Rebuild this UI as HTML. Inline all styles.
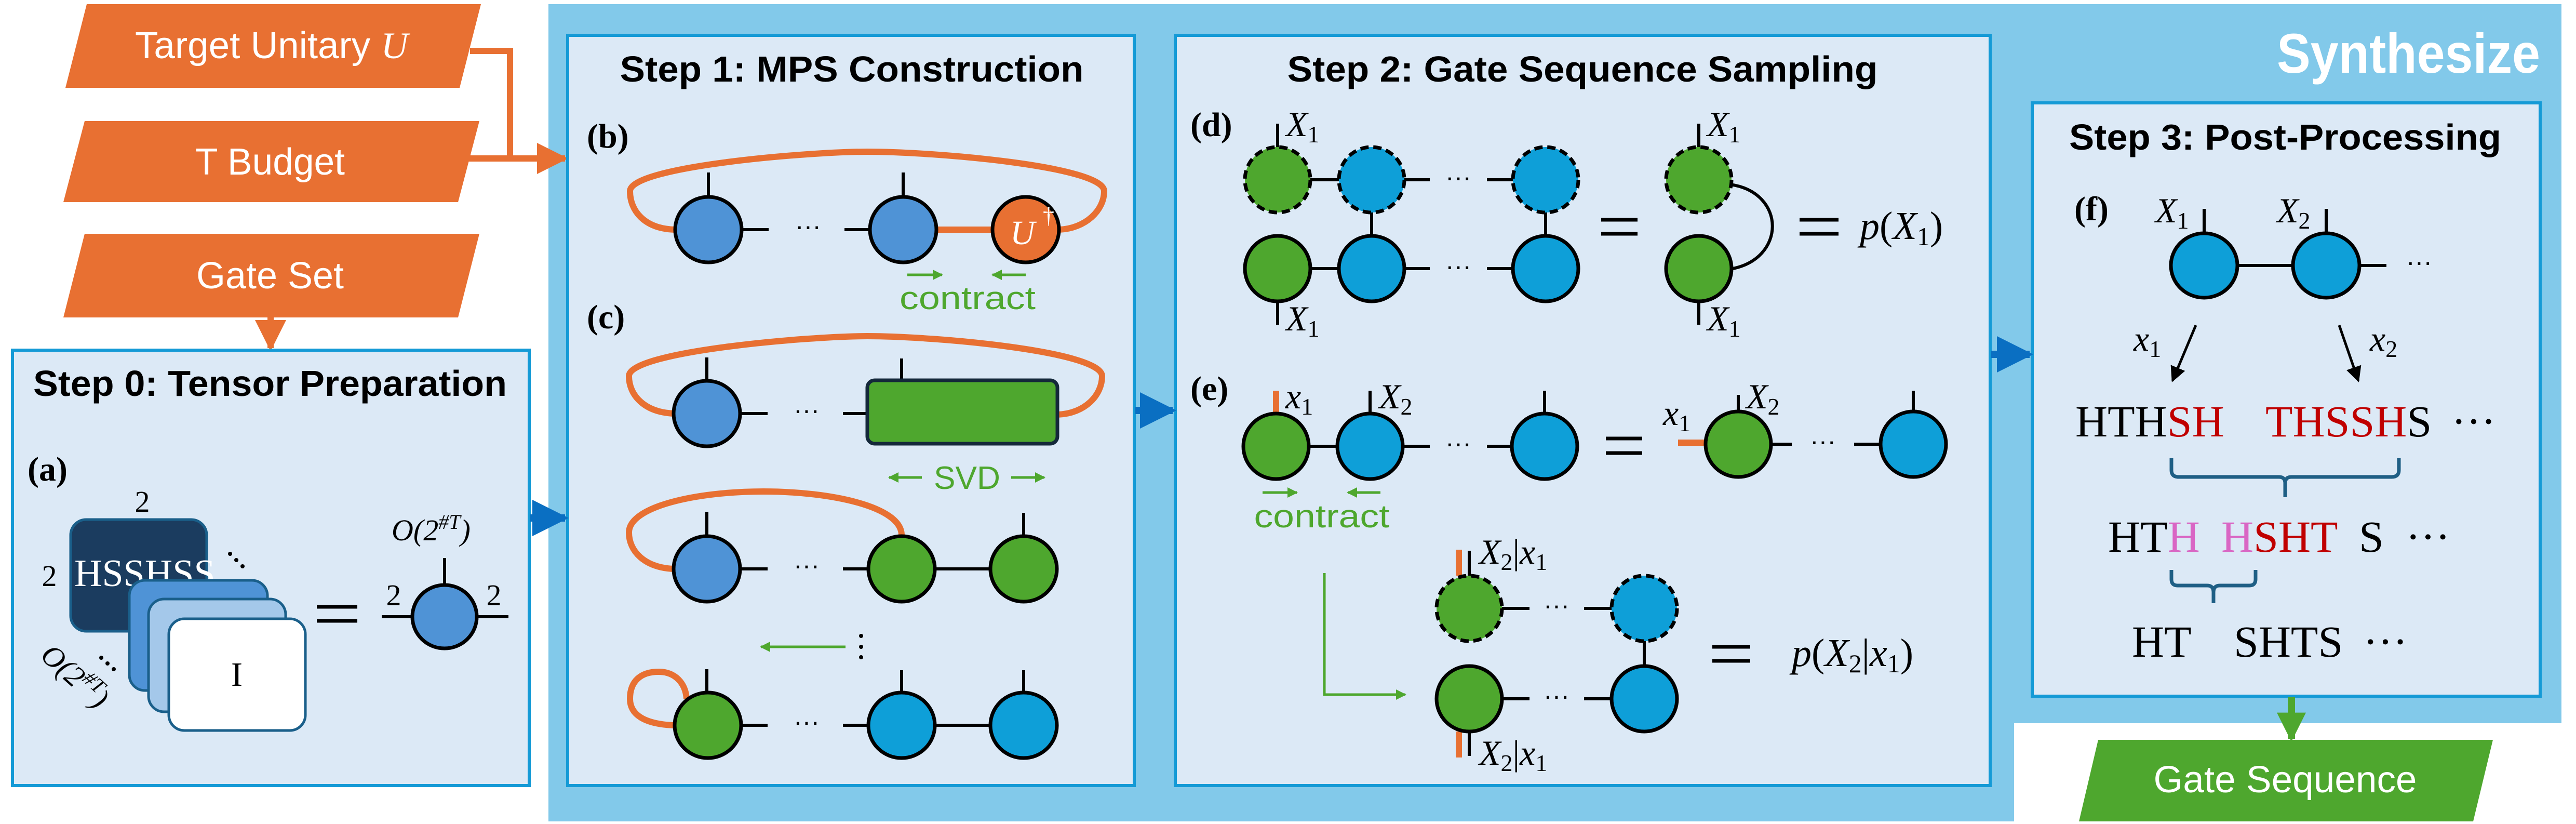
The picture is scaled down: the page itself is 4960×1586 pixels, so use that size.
<!DOCTYPE html>
<html><head><meta charset="utf-8"><style>
html,body{margin:0;padding:0;background:#fff}
svg{display:block}
.t{font-family:"Liberation Sans",sans-serif;font-weight:bold}
.s{font-family:"Liberation Serif",serif}
.m{font-family:"Liberation Serif",serif;font-style:italic}
</style></head><body>
<svg width="4960" height="1586" viewBox="0 0 4960 1586" xmlns="http://www.w3.org/2000/svg">
<defs>
<marker id="ab" viewBox="0 0 10 10" refX="9" refY="5" markerWidth="5" markerHeight="5" orient="auto"><path d="M0,0L10,5L0,10z" fill="#0a6fc2"/></marker>
<marker id="ao" viewBox="0 0 10 10" refX="9" refY="5" markerWidth="5" markerHeight="5" orient="auto"><path d="M0,0L10,5L0,10z" fill="#e87032"/></marker>
<marker id="ag" viewBox="0 0 10 10" refX="9" refY="5" markerWidth="4" markerHeight="4" orient="auto"><path d="M0,0L10,5L0,10z" fill="#4ea72e"/></marker>
<marker id="ak" viewBox="0 0 10 10" refX="9" refY="5" markerWidth="6" markerHeight="6" orient="auto"><path d="M0,0L10,5L0,10z" fill="#000"/></marker>
</defs>
<path d="M1056,8 H4932 V1392 H3878 V1581 H1056 Z" fill="#82c9ea"/>
<text x="4891" y="140" text-anchor="end" class="t" font-size="108" fill="#fff" textLength="507" lengthAdjust="spacingAndGlyphs">Synthesize</text>

<polygon points="167,8 926,8 885,169 126,169" fill="#e87032"/>
<text x="523" y="112" text-anchor="middle" font-family="Liberation Sans,sans-serif" font-size="72" fill="#fff" textLength="526" lengthAdjust="spacingAndGlyphs">Target Unitary <tspan class="m">U</tspan></text>
<polygon points="163,233 923,233 882,389 122,389" fill="#e87032"/>
<text x="520" y="336" text-anchor="middle" font-family="Liberation Sans,sans-serif" font-size="72" fill="#fff" textLength="288" lengthAdjust="spacingAndGlyphs">T Budget</text>
<polygon points="163,450 923,450 882,611 122,611" fill="#e87032"/>
<text x="520" y="555" text-anchor="middle" font-family="Liberation Sans,sans-serif" font-size="72" fill="#fff" textLength="284" lengthAdjust="spacingAndGlyphs">Gate Set</text>
<path d="M905,98 H982 V303" fill="none" stroke="#e87032" stroke-width="12"/>
<line x1="900" y1="305" x2="1088" y2="305" stroke="#e87032" stroke-width="12" marker-end="url(#ao)"/>
<line x1="521" y1="611" x2="521" y2="670" stroke="#e87032" stroke-width="12" marker-end="url(#ao)"/>

<rect x="24" y="674" width="995" height="838" fill="#dce9f6" stroke="#149ad6" stroke-width="6"/>
<rect x="1093" y="68" width="1091" height="1444" fill="#dce9f6" stroke="#149ad6" stroke-width="6"/>
<rect x="2263" y="68" width="1569" height="1444" fill="#dce9f6" stroke="#149ad6" stroke-width="6"/>
<rect x="3913" y="198" width="978" height="1142" fill="#dce9f6" stroke="#149ad6" stroke-width="6"/>

<line x1="1021" y1="997" x2="1088" y2="997" stroke="#0a6fc2" stroke-width="14" marker-end="url(#ab)"/>
<line x1="2186" y1="790" x2="2258" y2="790" stroke="#0a6fc2" stroke-width="14" marker-end="url(#ab)"/>
<line x1="3834" y1="682" x2="3908" y2="682" stroke="#0a6fc2" stroke-width="14" marker-end="url(#ab)"/>

<text x="520" y="762" text-anchor="middle" class="t" font-size="70" textLength="912" lengthAdjust="spacingAndGlyphs">Step 0: Tensor Preparation</text>
<text x="1640" y="157" text-anchor="middle" class="t" font-size="70" textLength="893" lengthAdjust="spacingAndGlyphs">Step 1: MPS Construction</text>
<text x="3047" y="157" text-anchor="middle" class="t" font-size="70" textLength="1137" lengthAdjust="spacingAndGlyphs">Step 2: Gate Sequence Sampling</text>
<text x="4400" y="288" text-anchor="middle" class="t" font-size="70" textLength="832" lengthAdjust="spacingAndGlyphs">Step 3: Post-Processing</text>

<!-- Step 0 -->
<text x="53" y="925" class="s" font-weight="bold" font-size="66">(a)</text>
<text x="274" y="985" text-anchor="middle" class="s" font-size="58">2</text>
<text x="95" y="1128" text-anchor="middle" class="s" font-size="58">2</text>
<rect x="136" y="1000" width="262" height="215" rx="30" fill="#1b3c5f" stroke="#1a5f8a" stroke-width="5"/>
<text x="143" y="1128" class="s" font-size="74" fill="#fff">HSSHSS</text>
<rect x="249" y="1117" width="266" height="212" rx="30" fill="#4f93d6" stroke="#1a5f8a" stroke-width="5"/>
<rect x="286" y="1153" width="264" height="217" rx="30" fill="#a4c8ea" stroke="#1a5f8a" stroke-width="5"/>
<rect x="325" y="1191" width="263" height="215" rx="30" fill="#fff" stroke="#1a5f8a" stroke-width="5"/>
<text x="456" y="1320" text-anchor="middle" class="s" font-size="66">I</text>
<g fill="#000"><circle cx="443" cy="1066" r="4"/><circle cx="455" cy="1078" r="4"/><circle cx="467" cy="1090" r="4"/>
<circle cx="195" cy="1266" r="4"/><circle cx="207" cy="1277" r="4"/><circle cx="219" cy="1288" r="4"/></g>
<text transform="translate(75,1265) rotate(42)" class="m" font-size="58">O(2<tspan font-size="40" dy="-22">#T</tspan><tspan dy="22">)</tspan></text>
<g stroke="#000" stroke-width="7"><line x1="610" y1="1168" x2="688" y2="1168"/><line x1="610" y1="1195" x2="688" y2="1195"/></g>
<text x="754" y="1040" class="m" font-size="58">O(2<tspan font-size="40" dy="-22">#T</tspan><tspan dy="22">)</tspan></text>
<g stroke="#000" stroke-width="6"><line x1="856" y1="1074" x2="856" y2="1125"/><line x1="735" y1="1187" x2="979" y2="1187"/></g>
<text x="758" y="1165" text-anchor="middle" class="s" font-size="58">2</text>
<text x="951" y="1165" text-anchor="middle" class="s" font-size="58">2</text>
<ellipse cx="856" cy="1187" rx="62" ry="61" fill="#4f93d6" stroke="#000" stroke-width="7"/>

<!-- Step 1 -->
<text x="1130" y="284" class="s" font-weight="bold" font-size="66">(b)</text>
<path d="M1299,442 C1240,440 1213,405 1213,368 C1213,320 1560,292 1670,292 C1800,292 2126,320 2126,368 C2126,405 2090,440 2039,442" fill="none" stroke="#e87032" stroke-width="12"/>
<g stroke="#000" stroke-width="6"><line x1="1364" y1="332" x2="1364" y2="380"/><line x1="1739" y1="332" x2="1739" y2="380"/><line x1="1364" y1="442" x2="1480" y2="442"/><line x1="1626" y1="442" x2="1739" y2="442"/></g>
<line x1="1739" y1="442" x2="1975" y2="442" stroke="#e87032" stroke-width="12"/>
<text x="1556" y="452" text-anchor="middle" font-size="50" font-family="Liberation Sans">···</text>
<ellipse cx="1364" cy="442" rx="64" ry="63" fill="#4f93d6" stroke="#000" stroke-width="7"/>
<ellipse cx="1739" cy="442" rx="64" ry="63" fill="#4f93d6" stroke="#000" stroke-width="7"/>
<ellipse cx="1975" cy="442" rx="64" ry="63" fill="#e87032" stroke="#000" stroke-width="7"/>
<text x="1945" y="470" class="m" font-size="66" fill="#fff">U</text><text x="2008" y="430" class="s" font-size="44" fill="#fff">†</text>
<line x1="1747" y1="529" x2="1814" y2="529" stroke="#4ea72e" stroke-width="5" marker-end="url(#ag)"/>
<line x1="1975" y1="529" x2="1911" y2="529" stroke="#4ea72e" stroke-width="5" marker-end="url(#ag)"/>
<text x="1863" y="595" text-anchor="middle" font-family="Liberation Sans" font-size="62" fill="#4ea72e" textLength="262" lengthAdjust="spacingAndGlyphs">contract</text>

<text x="1130" y="632" class="s" font-weight="bold" font-size="66">(c)</text>
<path d="M1299,796 C1240,794 1211,760 1211,724 C1211,676 1560,647 1670,647 C1800,647 2122,676 2122,724 C2122,760 2090,796 2036,798" fill="none" stroke="#e87032" stroke-width="12"/>
<g stroke="#000" stroke-width="6"><line x1="1361" y1="688" x2="1361" y2="735"/><line x1="1736" y1="690" x2="1736" y2="731"/><line x1="1361" y1="796" x2="1478" y2="796"/><line x1="1623" y1="796" x2="1670" y2="796"/></g>
<text x="1553" y="806" text-anchor="middle" font-size="50" font-family="Liberation Sans">···</text>
<ellipse cx="1361" cy="796" rx="64" ry="63" fill="#4f93d6" stroke="#000" stroke-width="7"/>
<rect x="1670" y="732" width="366" height="122" rx="14" fill="#4ea72e" stroke="#14283a" stroke-width="7"/>
<line x1="1775" y1="919" x2="1712" y2="919" stroke="#4ea72e" stroke-width="5" marker-end="url(#ag)"/>
<line x1="1947" y1="919" x2="2011" y2="919" stroke="#4ea72e" stroke-width="5" marker-end="url(#ag)"/>
<text x="1862" y="941" text-anchor="middle" font-family="Liberation Sans" font-size="62" fill="#4ea72e" textLength="128" lengthAdjust="spacingAndGlyphs">SVD</text>

<path d="M1299,1095 C1240,1093 1211,1060 1211,1025 C1211,975 1340,946 1470,946 C1600,946 1736,975 1736,1030" fill="none" stroke="#e87032" stroke-width="12"/>
<g stroke="#000" stroke-width="6"><line x1="1361" y1="985" x2="1361" y2="1035"/><line x1="1971" y1="987" x2="1971" y2="1035"/><line x1="1361" y1="1095" x2="1478" y2="1095"/><line x1="1623" y1="1095" x2="1971" y2="1095"/></g>
<text x="1553" y="1105" text-anchor="middle" font-size="50" font-family="Liberation Sans">···</text>
<ellipse cx="1361" cy="1095" rx="64" ry="63" fill="#4f93d6" stroke="#000" stroke-width="7"/>
<ellipse cx="1736" cy="1095" rx="64" ry="63" fill="#4ea72e" stroke="#000" stroke-width="7"/>
<ellipse cx="1971" cy="1095" rx="64" ry="63" fill="#4ea72e" stroke="#000" stroke-width="7"/>

<line x1="1628" y1="1245" x2="1465" y2="1245" stroke="#4ea72e" stroke-width="5" marker-end="url(#ag)"/>
<g fill="#000"><circle cx="1658" cy="1224" r="4"/><circle cx="1658" cy="1245" r="4"/><circle cx="1658" cy="1265" r="4"/></g>

<path d="M1299,1396 C1240,1394 1213,1375 1213,1345 C1213,1310 1235,1293 1268,1293 C1300,1293 1320,1315 1322,1345" fill="none" stroke="#e87032" stroke-width="12"/>
<g stroke="#000" stroke-width="6"><line x1="1361" y1="1288" x2="1361" y2="1335"/><line x1="1736" y1="1290" x2="1736" y2="1335"/><line x1="1971" y1="1290" x2="1971" y2="1335"/><line x1="1361" y1="1396" x2="1478" y2="1396"/><line x1="1623" y1="1396" x2="1971" y2="1396"/></g>
<text x="1553" y="1406" text-anchor="middle" font-size="50" font-family="Liberation Sans">···</text>
<ellipse cx="1363" cy="1396" rx="64" ry="63" fill="#4ea72e" stroke="#000" stroke-width="7"/>
<ellipse cx="1736" cy="1396" rx="64" ry="63" fill="#0e9fd8" stroke="#000" stroke-width="7"/>
<ellipse cx="1971" cy="1396" rx="64" ry="63" fill="#0e9fd8" stroke="#000" stroke-width="7"/>

<!-- Step 2 -->
<text x="2292" y="262" class="s" font-weight="bold" font-size="66">(d)</text>
<g stroke="#000" stroke-width="6">
<line x1="2460" y1="238" x2="2460" y2="285"/><line x1="2460" y1="578" x2="2460" y2="625"/>
<line x1="2460" y1="346" x2="2753" y2="346"/><line x1="2863" y1="346" x2="2976" y2="346"/>
<line x1="2460" y1="517" x2="2753" y2="517"/><line x1="2863" y1="517" x2="2976" y2="517"/>
<line x1="2641" y1="346" x2="2641" y2="517"/><line x1="2976" y1="346" x2="2976" y2="517"/>
<line x1="3271" y1="238" x2="3271" y2="285"/><line x1="3271" y1="578" x2="3271" y2="625"/>
</g>
<text x="2808" y="358" text-anchor="middle" font-size="50" font-family="Liberation Sans">···</text>
<text x="2808" y="529" text-anchor="middle" font-size="50" font-family="Liberation Sans">···</text>
<g stroke="#000" stroke-width="7">
<circle cx="2460" cy="346" r="63" fill="#4ea72e" stroke-dasharray="16,9"/>
<circle cx="2641" cy="346" r="63" fill="#0e9fd8" stroke-dasharray="16,9"/>
<circle cx="2976" cy="346" r="63" fill="#0e9fd8" stroke-dasharray="16,9"/>
<circle cx="2460" cy="517" r="63" fill="#4ea72e"/>
<circle cx="2641" cy="517" r="63" fill="#0e9fd8"/>
<circle cx="2976" cy="517" r="63" fill="#0e9fd8"/>
</g>
<text x="2476" y="262" class="m" font-size="68">X<tspan class="s" font-style="normal" font-size="46" dy="12">1</tspan></text>
<text x="2476" y="636" class="m" font-size="68">X<tspan class="s" font-style="normal" font-size="46" dy="12">1</tspan></text>
<g stroke="#000" stroke-width="7"><line x1="3083" y1="423" x2="3153" y2="423"/><line x1="3083" y1="450" x2="3153" y2="450"/></g>
<path d="M3331,355 C3440,370 3440,500 3331,518" fill="none" stroke="#000" stroke-width="6"/>
<circle cx="3271" cy="346" r="63" fill="#4ea72e" stroke="#000" stroke-width="7" stroke-dasharray="16,9"/>
<circle cx="3271" cy="517" r="63" fill="#4ea72e" stroke="#000" stroke-width="7"/>
<text x="3287" y="262" class="m" font-size="68">X<tspan class="s" font-style="normal" font-size="46" dy="12">1</tspan></text>
<text x="3287" y="636" class="m" font-size="68">X<tspan class="s" font-style="normal" font-size="46" dy="12">1</tspan></text>
<g stroke="#000" stroke-width="7"><line x1="3465" y1="423" x2="3540" y2="423"/><line x1="3465" y1="450" x2="3540" y2="450"/></g>
<text x="3581" y="460" class="m" font-size="76">p<tspan font-style="normal">(</tspan>X<tspan font-style="normal" font-size="50" dy="12">1</tspan><tspan font-style="normal" dy="-12">)</tspan></text>

<text x="2292" y="770" class="s" font-weight="bold" font-size="66">(e)</text>
<g stroke="#000" stroke-width="6">
<line x1="2638" y1="752" x2="2638" y2="800"/><line x1="2974" y1="752" x2="2974" y2="800"/>
<line x1="2457" y1="859" x2="2753" y2="859"/><line x1="2863" y1="859" x2="2974" y2="859"/>
<line x1="3347" y1="760" x2="3347" y2="795"/><line x1="3684" y1="752" x2="3684" y2="795"/>
<line x1="3347" y1="855" x2="3450" y2="855"/><line x1="3570" y1="855" x2="3684" y2="855"/>
</g>
<line x1="2457" y1="752" x2="2457" y2="796" stroke="#e87032" stroke-width="12"/>
<text x="2808" y="870" text-anchor="middle" font-size="50" font-family="Liberation Sans">···</text>
<text x="3510" y="866" text-anchor="middle" font-size="50" font-family="Liberation Sans">···</text>
<circle cx="2457" cy="859" r="63" fill="#4ea72e" stroke="#000" stroke-width="7"/>
<circle cx="2638" cy="859" r="63" fill="#0e9fd8" stroke="#000" stroke-width="7"/>
<circle cx="2974" cy="859" r="63" fill="#0e9fd8" stroke="#000" stroke-width="7"/>
<text x="2475" y="786" class="m" font-size="68">x<tspan class="s" font-style="normal" font-size="46" dy="12">1</tspan></text>
<text x="2655" y="786" class="m" font-size="68">X<tspan class="s" font-style="normal" font-size="46" dy="12">2</tspan></text>
<g stroke="#000" stroke-width="7"><line x1="3092" y1="844" x2="3162" y2="844"/><line x1="3092" y1="872" x2="3162" y2="872"/></g>
<line x1="3231" y1="852" x2="3284" y2="852" stroke="#e87032" stroke-width="12"/>
<circle cx="3347" cy="855" r="63" fill="#4ea72e" stroke="#000" stroke-width="7"/>
<circle cx="3684" cy="855" r="63" fill="#0e9fd8" stroke="#000" stroke-width="7"/>
<text x="3202" y="818" class="m" font-size="68">x<tspan class="s" font-style="normal" font-size="46" dy="12">1</tspan></text>
<text x="3362" y="786" class="m" font-size="68">X<tspan class="s" font-style="normal" font-size="46" dy="12">2</tspan></text>
<line x1="2431" y1="948" x2="2497" y2="948" stroke="#4ea72e" stroke-width="5" marker-end="url(#ag)"/>
<line x1="2658" y1="948" x2="2595" y2="948" stroke="#4ea72e" stroke-width="5" marker-end="url(#ag)"/>
<text x="2545" y="1015" text-anchor="middle" font-family="Liberation Sans" font-size="62" fill="#4ea72e" textLength="261" lengthAdjust="spacingAndGlyphs">contract</text>
<path d="M2550,1103 V1337 H2706" fill="none" stroke="#4ea72e" stroke-width="5" marker-end="url(#ag)"/>

<g stroke="#000" stroke-width="6">
<line x1="2829" y1="1060" x2="2829" y2="1110"/><line x1="2829" y1="1405" x2="2829" y2="1455"/>
<line x1="2829" y1="1171" x2="2945" y2="1171"/><line x1="3050" y1="1171" x2="3166" y2="1171"/>
<line x1="2829" y1="1345" x2="2945" y2="1345"/><line x1="3050" y1="1345" x2="3166" y2="1345"/>
<line x1="3166" y1="1171" x2="3166" y2="1345"/>
</g>
<line x1="2809" y1="1058" x2="2809" y2="1108" stroke="#e87032" stroke-width="12"/>
<line x1="2809" y1="1408" x2="2809" y2="1458" stroke="#e87032" stroke-width="12"/>
<text x="2997" y="1182" text-anchor="middle" font-size="50" font-family="Liberation Sans">···</text>
<text x="2997" y="1356" text-anchor="middle" font-size="50" font-family="Liberation Sans">···</text>
<circle cx="2829" cy="1171" r="63" fill="#4ea72e" stroke="#000" stroke-width="7" stroke-dasharray="16,9"/>
<circle cx="3166" cy="1171" r="63" fill="#0e9fd8" stroke="#000" stroke-width="7" stroke-dasharray="16,9"/>
<circle cx="2829" cy="1345" r="63" fill="#4ea72e" stroke="#000" stroke-width="7"/>
<circle cx="3166" cy="1345" r="63" fill="#0e9fd8" stroke="#000" stroke-width="7"/>
<text x="2848" y="1085" class="m" font-size="68">X<tspan class="s" font-style="normal" font-size="46" dy="12">2</tspan><tspan font-style="normal" dy="-12">|</tspan>x<tspan class="s" font-style="normal" font-size="46" dy="12">1</tspan></text>
<text x="2848" y="1472" class="m" font-size="68">X<tspan class="s" font-style="normal" font-size="46" dy="12">2</tspan><tspan font-style="normal" dy="-12">|</tspan>x<tspan class="s" font-style="normal" font-size="46" dy="12">1</tspan></text>
<g stroke="#000" stroke-width="7"><line x1="3297" y1="1245" x2="3370" y2="1245"/><line x1="3297" y1="1272" x2="3370" y2="1272"/></g>
<text x="3450" y="1282" class="m" font-size="76">p<tspan font-style="normal">(</tspan>X<tspan font-style="normal" font-size="50" dy="12">2</tspan><tspan font-style="normal" dy="-12">|</tspan>x<tspan font-style="normal" font-size="50" dy="12">1</tspan><tspan font-style="normal" dy="-12">)</tspan></text>

<!-- Step 3 -->
<text x="3994" y="424" class="s" font-weight="bold" font-size="66">(f)</text>
<g stroke="#000" stroke-width="6">
<line x1="4244" y1="402" x2="4244" y2="450"/><line x1="4479" y1="402" x2="4479" y2="450"/>
<line x1="4244" y1="511" x2="4595" y2="511"/>
</g>
<ellipse cx="4244" cy="511" rx="64" ry="62" fill="#0e9fd8" stroke="#000" stroke-width="7"/>
<ellipse cx="4479" cy="511" rx="64" ry="62" fill="#0e9fd8" stroke="#000" stroke-width="7"/>
<text x="4658" y="521" text-anchor="middle" font-size="50" font-family="Liberation Sans">···</text>
<text x="4150" y="428" class="m" font-size="68">X<tspan class="s" font-style="normal" font-size="46" dy="12">1</tspan></text>
<text x="4384" y="428" class="m" font-size="68">X<tspan class="s" font-style="normal" font-size="46" dy="12">2</tspan></text>
<line x1="4228" y1="626" x2="4183" y2="733" stroke="#000" stroke-width="5" marker-end="url(#ak)"/>
<line x1="4504" y1="626" x2="4541" y2="733" stroke="#000" stroke-width="5" marker-end="url(#ak)"/>
<text x="4108" y="675" class="m" font-size="68">x<tspan class="s" font-style="normal" font-size="46" dy="12">1</tspan></text>
<text x="4563" y="675" class="m" font-size="68">x<tspan class="s" font-style="normal" font-size="46" dy="12">2</tspan></text>

<text class="s" font-size="86" y="840"><tspan x="3996">HTH</tspan><tspan fill="#c00000">SH</tspan><tspan x="4362" fill="#c00000">THSSH</tspan><tspan>S</tspan></text>
<text class="s" font-size="86" y="840" x="4720">···</text>
<path d="M4181,882 V905 Q4181,918 4195,918 H4388 Q4400,918 4400,930 V957 M4400,930 Q4400,918 4412,918 H4605 Q4619,918 4619,905 V882" fill="none" stroke="#1f5f85" stroke-width="7"/>
<text class="s" font-size="86" y="1062"><tspan x="4059">HT</tspan><tspan fill="#d966c4">H</tspan><tspan x="4277" fill="#d966c4">H</tspan><tspan fill="#c00000">SHT</tspan><tspan x="4542">S</tspan></text>
<text class="s" font-size="86" y="1062" x="4632">···</text>
<path d="M4181,1097 V1115 Q4181,1127 4193,1127 H4250 Q4262,1127 4262,1140 V1161 M4262,1140 Q4262,1127 4274,1127 H4331 Q4343,1127 4343,1115 V1097" fill="none" stroke="#1f5f85" stroke-width="7"/>
<text class="s" font-size="86" y="1264"><tspan x="4105">HT</tspan><tspan x="4301">SHTS</tspan></text>
<text class="s" font-size="86" y="1264" x="4550">···</text>

<line x1="4412" y1="1342" x2="4412" y2="1422" stroke="#4ea72e" stroke-width="14" marker-end="url(#ag)"/>
<polygon points="4040,1424 4800,1424 4762,1581 4003,1581" fill="#4ea72e"/>
<text x="4400" y="1525" text-anchor="middle" font-family="Liberation Sans,sans-serif" font-size="72" fill="#fff" textLength="507" lengthAdjust="spacingAndGlyphs">Gate Sequence</text>
</svg>
</body></html>
